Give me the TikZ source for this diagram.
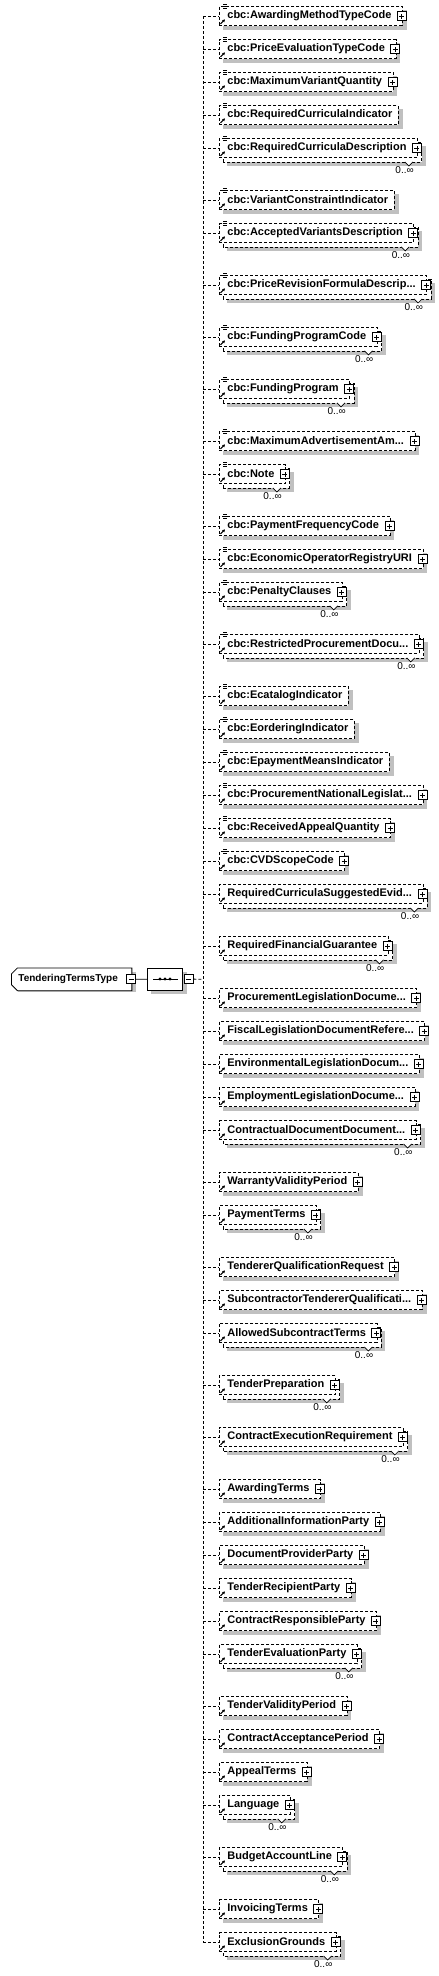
\documentclass[tikz,border=0pt]{standalone}
\usepackage{fontspec}
\setmainfont{Liberation Sans}
\usetikzlibrary{arrows.meta,calc,positioning,shapes.misc}
\definecolor{ink}{HTML}{000000}
\definecolor{shadowgray}{HTML}{C0C0C0}
\newcommand\trunc{...}
\pgfdeclarelayer{back}
\pgfsetlayers{back,main}
\tikzset{
  elem/.style={draw=ink,fill=white,dash pattern=on 3pt off 2pt,line width=0.8pt,
    inner xsep=0pt,inner ysep=0pt,minimum height=19pt,text=ink,
    font=\bfseries\fontsize{11}{13}\selectfont,
    execute at begin node={\hspace*{8pt}},execute at end node={\hspace*{#1pt}}},
  ghost/.style={draw=ink,fill=white,dash pattern=on 3pt off 2pt,line width=0.8pt},
  dropgray/.style={fill=shadowgray,draw=none},
  rootbox/.style={chamfered rectangle,chamfered rectangle corners={north west,south west},
    chamfered rectangle xsep=3pt,chamfered rectangle ysep=3pt,draw=ink,fill=white,line width=0.8pt,
    inner xsep=0pt,inner ysep=0pt,minimum height=22.7pt,text=ink,
    font=\bfseries\fontsize{10}{12}\selectfont,
    execute at begin node={\hspace*{4pt}},execute at end node={\hspace*{11pt}}},
  seqbox/.style={chamfered rectangle,chamfered rectangle xsep=4.5pt,chamfered rectangle ysep=4.5pt,
    draw=ink,fill=white,line width=0.8pt,inner sep=0pt,minimum width=35.4pt,minimum height=22pt},
  expander/.style={draw=ink,solid,fill=white,line width=0.7pt,minimum size=9pt,inner sep=0pt,
    path picture={\draw[line width=0.7pt] ([xshift=2pt]path picture bounding box.west) -- ([xshift=-2pt]path picture bounding box.east)
      ([yshift=2pt]path picture bounding box.south) -- ([yshift=-2pt]path picture bounding box.north);}},
  collapser/.style={draw=ink,solid,fill=white,line width=0.7pt,minimum size=9pt,inner sep=0pt,
    path picture={\draw[line width=0.7pt] ([xshift=2pt]path picture bounding box.west) -- ([xshift=-2pt]path picture bounding box.east);}},
  branch/.style={draw=ink,line width=0.8pt,dash pattern=on 3pt off 2pt},
  link/.style={draw=ink,line width=0.8pt},
  notch/.style={draw=ink,fill=white,line width=0.7pt},
  occurs/.style={inner sep=0pt,text=ink,font=\fontsize{10}{12}\selectfont},
  icon/.style={draw=ink,line width=0.7pt},
  refarrow/.style={-{Triangle[length=2.6pt,width=2.8pt]},draw=ink,line width=1pt}
}

\begin{document}
\begin{tikzpicture}[x=1pt,y=-1pt]
  \useasboundingbox (0,0) rectangle (439,1976);

  % root type and its sequence
  \node[rootbox,anchor=west] (root) at (11,979.3) {TenderingTermsType};
  \node[collapser] (rootm) at ([xshift=-1pt]root.east) {};
  \node[seqbox] (seq) at (165,979) {};
  \begin{pgfonlayer}{back}
    \fill[dropgray] ([shift={(4,4)}]root.south west) rectangle ([shift={(4,4)}]root.north east);
    \fill[dropgray] ([shift={(4,4)}]seq.south west) rectangle ([shift={(4,4)}]seq.north east);
  \end{pgfonlayer}
  \draw[link] ($(seq.center)+(-12,0)$) -- ($(seq.center)+(13,0)$);
  \foreach \d in {-5,0,5} \fill[ink] ($(seq.center)+(\d,0)$) circle (1.6);
  \node[collapser] (seqm) at ([xshift=5.5pt]seq.east) {};
  \coordinate (trunk) at (203,979.3);
  \draw[link] (rootm) -- (seq);
  \draw[branch] (seqm) -- (trunk);

  % child elements: y / name / right padding / unbounded
  \foreach \y/\txt/\pad/\m [count=\i] in {
    16/cbc:AwardingMethodTypeCode/11/0,
    49/cbc:PriceEvaluationTypeCode/11/0,
    82/cbc:MaximumVariantQuantity/11/0,
    115/cbc:RequiredCurriculaIndicator/6/0,
    148/cbc:RequiredCurriculaDescription/11/1,
    200/cbc:VariantConstraintIndicator/6/0,
    233/cbc:AcceptedVariantsDescription/11/1,
    285/cbc:PriceRevisionFormulaDescrip\trunc/11/1,
    337/cbc:FundingProgramCode/11/1,
    389/cbc:FundingProgram/11/1,
    441/cbc:MaximumAdvertisementAm\trunc/11/0,
    474/cbc:Note/11/1,
    526/cbc:PaymentFrequencyCode/11/0,
    559/cbc:EconomicOperatorRegistryURI/11/0,
    592/cbc:PenaltyClauses/11/1,
    644/cbc:RestrictedProcurementDocu\trunc/11/1,
    696/cbc:EcatalogIndicator/6/0,
    729/cbc:EorderingIndicator/6/0,
    762/cbc:EpaymentMeansIndicator/6/0,
    795/cbc:ProcurementNationalLegislat\trunc/11/0,
    828/cbc:ReceivedAppealQuantity/11/0,
    861/cbc:CVDScopeCode/11/0,
    894/RequiredCurriculaSuggestedEvid\trunc/11/1,
    946/RequiredFinancialGuarantee/11/1,
    998/ProcurementLegislationDocume\trunc/11/0,
    1031/FiscalLegislationDocumentRefere\trunc/11/0,
    1064/EnvironmentalLegislationDocum\trunc/11/0,
    1097/EmploymentLegislationDocume\trunc/11/0,
    1130/ContractualDocumentDocument\trunc/11/1,
    1182/WarrantyValidityPeriod/11/0,
    1215/PaymentTerms/11/1,
    1267/TendererQualificationRequest/11/0,
    1300/SubcontractorTendererQualificati\trunc/11/0,
    1333/AllowedSubcontractTerms/11/1,
    1385/TenderPreparation/11/1,
    1437/ContractExecutionRequirement/11/1,
    1489/AwardingTerms/11/0,
    1522/AdditionalInformationParty/11/0,
    1555/DocumentProviderParty/11/0,
    1588/TenderRecipientParty/11/0,
    1621/ContractResponsibleParty/11/0,
    1654/TenderEvaluationParty/11/1,
    1706/TenderValidityPeriod/11/0,
    1739/ContractAcceptancePeriod/11/0,
    1772/AppealTerms/11/0,
    1805/Language/11/1,
    1857/BudgetAccountLine/11/1,
    1909/InvoicingTerms/11/0,
    1942/ExclusionGrounds/11/1} {
    \node[elem=\pad,anchor=west] (e\i) at (219,\y) {\txt};
    \begin{pgfonlayer}{back}
      \ifnum\m=1
        \fill[dropgray] ([shift={(8,8)}]e\i.south west) rectangle ([shift={(8,8)}]e\i.north east);
        \draw[ghost] ([shift={(4,4)}]e\i.south west) rectangle ([shift={(4,4)}]e\i.north east);
      \else
        \fill[dropgray] ([shift={(4,4)}]e\i.south west) rectangle ([shift={(4,4)}]e\i.north east);
      \fi
    \end{pgfonlayer}
    \ifnum\m=1
      \draw[notch] ($(e\i.south east)+(-13,4)$) -- ++(4,4) -- ++(4,-4);
      \node[occurs,anchor=north east] (o\i) at ($(e\i.south east)+(-4,8.5)$) {0..∞};
    \fi
    \ifnum\pad>6
      \node[expander] (p\i) at ([xshift=-1pt]e\i.east) {};
    \fi
    \ifnum\i<23
      \foreach \k in {0,2,4} \draw[icon] ($(e\i.north west)+(4,\k-1.5)$) -- ++(4,0);
    \fi
    \draw[refarrow] ($(e\i.south west)+(1.5,-2)$) -- ++(4.5,-4.5);
    \draw[branch] (trunk |- e\i.west) -- (e\i.west);
  }
  \draw[branch] (trunk |- e1.west) -- (trunk |- e49.west);
\end{tikzpicture}
\end{document}
